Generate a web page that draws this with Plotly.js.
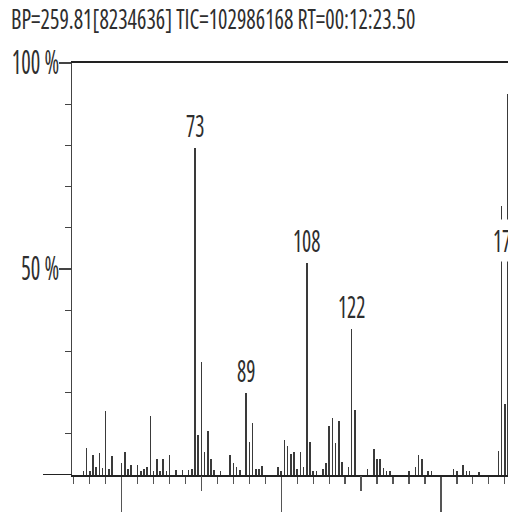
<!DOCTYPE html>
<html>
<head>
<meta charset="utf-8">
<script src="https://cdn.plot.ly/plotly-3.0.1.min.js"></script>
<style>
html, body { margin: 0; padding: 0; overflow: hidden; background: #fff; }
#chart { width: 560px; height: 518px; }
#chart text { font-stretch: 75% !important; }
</style>
</head>
<body>
<div id="chart"></div>
<script>
// m/z values and relative intensities (%)
var mz = [38, 39, 40, 41, 42, 43, 44, 45, 46, 47, 50, 51, 52, 53, 55, 56, 57, 58, 59, 60,
          61, 62, 63, 64, 65, 67, 69, 71, 72, 73, 74, 75, 76, 77, 78, 79, 81, 84, 85, 86,
          87, 89, 90, 91, 92, 93, 94, 99, 100, 101, 102, 103, 104, 105, 106, 107, 108, 109, 110, 111,
          113, 114, 115, 116, 117, 118, 119, 121, 122, 123, 127, 129, 130, 131, 132, 133, 134, 140, 142, 143,
          144, 146, 147, 154, 155, 157, 158, 159, 162, 168, 169, 170, 171, 172];
var intensity = [1.0, 6.5, 1.0, 4.8, 2.0, 5.4, 1.7, 15.6, 1.5, 4.6, 3.0, 5.5, 1.5, 2.5, 2.4, 1.0, 1.5, 2.0, 14.4, 1.0,
          3.9, 1.0, 3.9, 1.0, 4.8, 1.2, 1.2, 1.2, 1.5, 79.4, 9.7, 27.5, 5.7, 10.7, 3.8, 1.2, 1.0, 4.8, 3.0, 2.0,
          1.2, 20.0, 8.0, 12.6, 1.5, 1.5, 2.2, 2.0, 1.0, 8.6, 7.0, 5.0, 5.7, 1.5, 5.7, 2.0, 51.5, 8.0, 1.0, 1.0,
          1.5, 3.0, 12.0, 13.8, 7.8, 13.0, 3.2, 2.0, 35.4, 15.8, 1.5, 6.2, 3.8, 3.8, 1.8, 1.0, 1.0, 1.0, 2.0, 4.9,
          3.8, 1.0, 1.0, 1.5, 1.0, 2.4, 1.0, 1.0, 0.8, 5.8, 65.3, 17.3, 92.5, 51.5];

// labelled peaks
var labelMz = [73, 89, 108, 122, 172];

// tick values
var xMajorTicks = [50, 100, 150];
var xMidTicks = [75, 125, 175];
var xMinorTicks = [35, 40, 45, 50, 55, 60, 65, 70, 75, 80, 85, 90, 95, 100, 105, 110, 115, 120,
                   125, 130, 135, 140, 145, 150, 155, 160, 165, 170, 175, 180, 185];
var yTickVals = [50, 100];
var yTickText = ['50 %', '100 %'];
var yMinorTicks = [10, 20, 30, 40, 60, 70, 80, 90];

var titleText = 'BP=259.81[8234636] TIC=102986168 RT=00:12:23.50';

var FONT = "'Open Sans', 'Noto Sans', sans-serif";
var TXT = '#2e2e2e';
var W = 560, H = 518;
var xRange = [34.45, 187.3];

var annotations = labelMz.map(function (m) {
  var idx = mz.indexOf(m);
  return {
    x: m, y: intensity[idx], xref: 'x', yref: 'y',
    text: String(m), showarrow: false,
    xanchor: 'center', yanchor: 'bottom', yshift: 1,
    xshift: m > 170 ? -5 : 0,
    bgcolor: '#ffffff', borderpad: 0,
    font: { family: FONT, size: 30, color: TXT }
  };
});

var traces = [{
  type: 'bar', x: mz, y: intensity, width: 0.5,
  marker: { color: '#3a3a3a', line: { width: 0 } },
  hoverinfo: 'x+y', xaxis: 'x', yaxis: 'y'
}, {
  type: 'scatter', x: [xRange[0]], y: [0], mode: 'markers',
  marker: { opacity: 0 }, xaxis: 'x2', yaxis: 'y', hoverinfo: 'skip', showlegend: false
}];

var layout = {
  width: W, height: H,
  margin: { l: 72, r: 0, t: 63, b: 43, pad: 0 },
  paper_bgcolor: '#ffffff', plot_bgcolor: '#ffffff',
  showlegend: false, bargap: 0,
  title: {
    text: titleText, xref: 'container', yref: 'container',
    x: 11 / W, xanchor: 'left', y: 1 - 19 / H, yanchor: 'middle',
    font: { family: FONT, size: 28, color: TXT }
  },
  xaxis: {
    range: xRange, showgrid: false, zeroline: false,
    showline: true, linecolor: '#222', linewidth: 2, mirror: true,
    ticks: 'outside', tickmode: 'array', tickvals: xMajorTicks, ticklen: 35,
    tickwidth: 1.5, tickcolor: '#555', showticklabels: false,
    minor: { tickmode: 'array', tickvals: xMinorTicks, ticks: 'outside', ticklen: 7, tickwidth: 1.3, tickcolor: '#555', showgrid: false },
    fixedrange: true, automargin: false
  },
  xaxis2: {
    range: xRange, overlaying: 'x', anchor: 'y', side: 'bottom',
    showgrid: false, zeroline: false, showline: false,
    ticks: 'outside', tickmode: 'array', tickvals: xMidTicks, ticklen: 15,
    tickwidth: 1.5, tickcolor: '#555', showticklabels: false, fixedrange: true, automargin: false
  },
  yaxis: {
    range: [0, 100], showgrid: false, zeroline: false,
    showline: true, linecolor: '#444', linewidth: 1.5,
    ticks: 'outside', tickmode: 'array', tickvals: yTickVals, ticktext: yTickText,
    ticklen: 12, tickwidth: 1.5, tickcolor: '#444', ticklabelstandoff: -7,
    tickfont: { family: FONT, size: 32, color: TXT },
    minor: { tickmode: 'array', tickvals: yMinorTicks, ticks: 'outside', ticklen: 6, tickwidth: 1.3, tickcolor: '#444', showgrid: false },
    fixedrange: true, automargin: false
  },
  shapes: [{
    type: 'line', xref: 'paper', yref: 'y',
    x0: -29 / (W - 72), x1: 0, y0: 0, y1: 0,
    line: { color: '#222', width: 2 }
  }],
  annotations: annotations
};

// horizontally condense text like the narrow instrument font
function condense(selector, factor) {
  document.querySelectorAll(selector).forEach(function (el) {
    var len = el.getComputedTextLength();
    if (len > 0) {
      el.setAttribute('textLength', (len * factor).toFixed(1));
      el.setAttribute('lengthAdjust', 'spacingAndGlyphs');
    }
  });
}

Plotly.newPlot('chart', traces, layout, { displayModeBar: false, staticPlot: true }).then(function () {
  condense('#chart .gtitle', 0.79);
  condense('#chart .annotation-text', 0.72);
  condense('#chart .ytick text', 0.70);
});
</script>
</body>
</html>
